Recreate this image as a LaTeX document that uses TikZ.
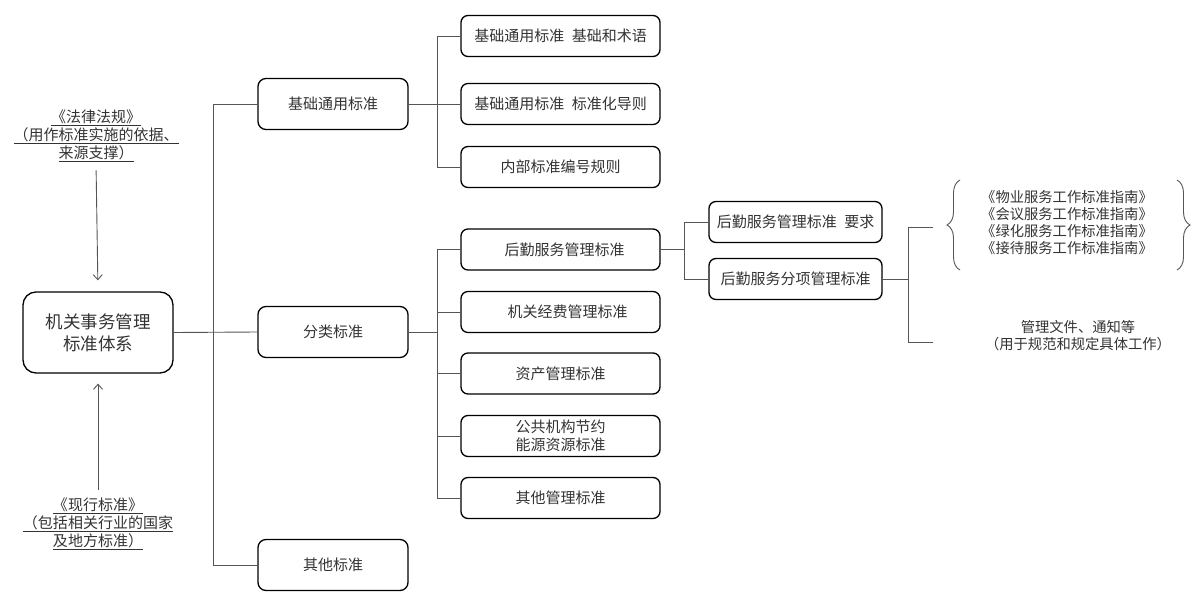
\documentclass[tikz,border=0pt]{standalone}
\usepackage{fontspec}
\setmainfont{Noto Sans CJK SC}
\usetikzlibrary{decorations.pathreplacing,arrows.meta}
\definecolor{txt}{HTML}{333333}
\definecolor{ln}{HTML}{555555}
\begin{document}
\begin{tikzpicture}[x=1pt,y=-1pt,
  every node/.style={text=txt,inner sep=0pt,align=center},
  bigbox/.style={draw=black,line width=1.3pt,rounded corners=13pt,minimum width=150pt,minimum height=81pt,font=\fontsize{17.5}{22}\selectfont},
  midbox/.style={draw=black,line width=1.3pt,rounded corners=8pt,minimum width=150pt,minimum height=51pt,font=\fontsize{15}{18}\selectfont},
  leafbox/.style={draw=black,line width=1.3pt,rounded corners=7pt,minimum width=199pt,minimum height=41pt,font=\fontsize{15}{18}\selectfont},
  subbox/.style={draw=black,line width=1.3pt,rounded corners=7pt,minimum width=173pt,minimum height=41pt,font=\fontsize{15}{18}\selectfont},
  lbl/.style={font=\fontsize{15}{18}\selectfont},
  small/.style={font=\fontsize{14.3}{17}\selectfont},
  conn/.style={draw=ln,line width=0.9pt},
  arr/.style={draw=ln,line width=0.9pt,-{Straight Barb[length=5pt,width=9pt]}},
  brc/.style={draw=ln,line width=0.9pt,decorate,decoration={brace,amplitude=13pt}}]
\useasboundingbox (0,0) rectangle (1202,605);

% main
\node[bigbox] (main) at (98,332.5) {机关事务管理\\标准体系};

% left labels
\node[lbl] (law) at (96,136) {\underline{《法律法规》}\\\underline{（用作标准实施的依据、}\\\underline{来源支撑）}};
\node[lbl] (cur) at (98,524) {\underline{《现行标准》}\\\underline{（包括相关行业的国家}\\\underline{及地方标准）}};
\draw[arr,shorten <=8pt,shorten >=11pt] (law.south) -- (main.north);
\draw[arr,shorten <=8pt,shorten >=10pt] (cur.north) -- (main.south);

% level 2
\node[midbox] (l2a) at (333,104) {基础通用标准};
\node[midbox] (l2b) at (333,332) {分类标准};
\node[midbox] (l2c) at (333,565) {其他标准};

% level 3
\node[leafbox] (l3a) at (560.5,36) {基础通用标准\hspace{0.5em}基础和术语};
\node[leafbox] (l3b) at (560.5,104) {基础通用标准\hspace{0.5em}标准化导则};
\node[leafbox] (l3c) at (560.5,167) {内部标准编号规则};
\node[leafbox] (l3d) at (560.5,249.5) {\hspace{8pt}后勤服务管理标准};
\node[leafbox] (l3e) at (560.5,312) {\hspace{14pt}机关经费管理标准};
\node[leafbox] (l3f) at (560.5,373.5) {资产管理标准};
\node[leafbox] (l3g) at (560.5,436) {公共机构节约\\能源资源标准};
\node[leafbox] (l3h) at (560.5,498) {其他管理标准};

% level 4
\node[subbox] (l4a) at (795.5,222) {后勤服务管理标准\hspace{0.5em}要求};
\node[subbox] (l4b) at (795.5,279) {后勤服务分项管理标准};

% level 5
\node[small] (guides) at (1067,223) {《物业服务工作标准指南》\\《会议服务工作标准指南》\\《绿化服务工作标准指南》\\《接待服务工作标准指南》};
\node[small] (docs) at (1078,335.5) {管理文件、通知等\hspace{1.4em}\\（用于规范和规定具体工作）};

% junction coordinates
\coordinate (j1) at (213,0);
\coordinate (j2) at (437,0);
\coordinate (j3) at (684,0);
\coordinate (j4) at (908,0);
\coordinate (e1) at (933,227);
\coordinate (e2) at (933,342);

% connectors
\draw[conn] (main.east) -- (l2b.west);
\draw[conn] (l2a.west) -| (j1 |- l2c.west) -- (l2c.west);

\draw[conn] (l2a.east) -- (l3b.west);
\draw[conn] (l3a.west) -| (j2 |- l3c.west) -- (l3c.west);

\draw[conn] (l2b.east) -- (j2 |- l2b.east);
\draw[conn] (l3d.west) -| (j2 |- l3h.west) -- (l3h.west);
\draw[conn] (j2 |- l3e.west) -- (l3e.west);
\draw[conn] (j2 |- l3f.west) -- (l3f.west);
\draw[conn] (j2 |- l3g.west) -- (l3g.west);

\draw[conn] (l3d.east) -- (j3 |- l3d.east);
\draw[conn] (l4a.west) -| (j3 |- l4b.west) -- (l4b.west);

\draw[conn] (l4b.east) -- (j4 |- l4b.east);
\draw[conn] (e1) -| (j4 |- e2) -- (e2);

% braces
\coordinate (b1) at (960,270);
\coordinate (b2) at (960,180);
\coordinate (b3) at (1177,180);
\coordinate (b4) at (1177,270);
\draw[brc] (b1) -- (b2);
\draw[brc] (b3) -- (b4);
\end{tikzpicture}
\end{document}
